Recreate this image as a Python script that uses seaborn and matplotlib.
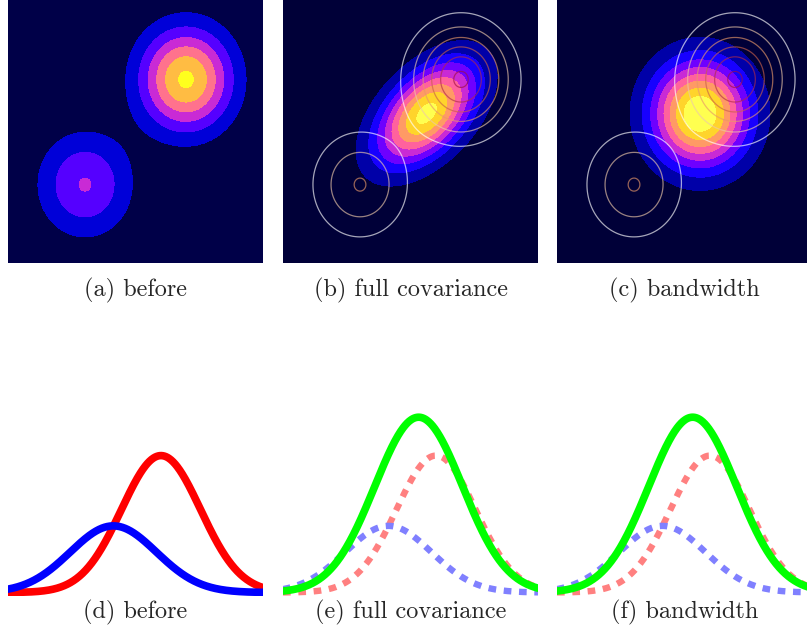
import numpy as np
import seaborn as sns
import matplotlib.pyplot as plt
from matplotlib.colors import LinearSegmentedColormap

# TOP ROW: GAUSSIAN BLOBS (peak height, centre, spread)
blob_peaks = [0.436, 0.88]
blob_cx = [0.302, 0.698]
blob_cy = [0.298, 0.698]
blob_sx = [0.1235, 0.1235]
blob_sy = [0.133, 0.133]

full_peak = 0.925
full_centre = [0.563, 0.569]
full_sigmas = [0.165, 0.094]   # along / across the diagonal
full_angle = 45

bw_peak = 0.995
bw_centre = [0.561, 0.567]
bw_sigmas = [0.131, 0.139]

# BOTTOM ROW: 1D CURVES (peak, mean, sd)
red_curve = [0.781, 0.600, 0.155]
blue_curve = [0.380, 0.413, 0.169]
green_curve = [1.0, 0.532, 0.172]

captions_top = ['(a) before', '(b) full covariance', '(c) bandwidth']
captions_bottom = ['(d) before', '(e) full covariance', '(f) bandwidth']


def gauss2d(X, Y, peak, cx, cy, sx, sy, angle=0):
    t = np.deg2rad(angle)
    u = (X - cx) * np.cos(t) + (Y - cy) * np.sin(t)
    v = -(X - cx) * np.sin(t) + (Y - cy) * np.cos(t)
    return peak * np.exp(-0.5 * ((u / sx) ** 2 + (v / sy) ** 2))


def gauss1d(x, params):
    peak, mu, sd = params
    return peak * np.exp(-0.5 * ((x - mu) / sd) ** 2)


sns.set_theme(style='white')
plt.rcParams['font.family'] = ['cmr10', 'DejaVu Serif']

W, H = 807, 639
fig = plt.figure(figsize=(W / 100, H / 100), dpi=100)

lefts = [8, 283, 557]
pw = 255

g = np.linspace(0, 1, 400)
X, Y = np.meshgrid(g, g)

Z_before = sum(gauss2d(X, Y, p, cx, cy, sx, sy)
               for p, cx, cy, sx, sy in zip(blob_peaks, blob_cx, blob_cy, blob_sx, blob_sy))
Z_full = gauss2d(X, Y, full_peak, full_centre[0], full_centre[1],
                 full_sigmas[0], full_sigmas[1], full_angle)
Z_bw = gauss2d(X, Y, bw_peak, bw_centre[0], bw_centre[1], bw_sigmas[0], bw_sigmas[1])

ring_cmap = LinearSegmentedColormap.from_list(
    'rings', ['#ffffff', '#ecc8a8', '#e89868', '#c86048', '#b02c48', '#a01040'])
before_levels = np.linspace(0, 1, 8)

fields = [(Z_before, 8), (Z_full, 10), (Z_bw, 10)]
for i, (Z, n) in enumerate(fields):
    ax = fig.add_axes([lefts[i] / W, (H - 263) / H, pw / W, 263 / H])
    ax.contourf(X, Y, Z, levels=np.linspace(0, 1, n), cmap='gnuplot2')
    if i > 0:
        ax.contour(X, Y, Z_before, levels=before_levels[1:-1], cmap=ring_cmap,
                   alpha=0.65, linewidths=0.9)
    ax.set_xlim(0, 1)
    ax.set_ylim(0, 1)
    ax.axis('off')
    ax.text(0.5, -27 / 263, captions_top[i], transform=ax.transAxes,
            ha='center', va='center', fontsize=17.5)

x = np.linspace(0, 1, 500)
bh = 195.5
for i in range(3):
    ax = fig.add_axes([lefts[i] / W, (H - 595.5) / H, pw / W, bh / H])
    if i == 0:
        sns.lineplot(x=x, y=gauss1d(x, red_curve), ax=ax, color='#ff0000', lw=5.5)
        sns.lineplot(x=x, y=gauss1d(x, blue_curve), ax=ax, color='#0000ff', lw=5.5)
    else:
        sns.lineplot(x=x, y=gauss1d(x, red_curve), ax=ax, color='#ff8080', lw=4.6,
                     linestyle=(0, (1.2, 1.2)))
        sns.lineplot(x=x, y=gauss1d(x, blue_curve), ax=ax, color='#8080ff', lw=4.6,
                     linestyle=(0, (1.2, 1.2)))
        sns.lineplot(x=x, y=gauss1d(x, green_curve), ax=ax, color='#00ff00', lw=5.5)
    ax.set_xlim(0, 1)
    ax.set_ylim(-3 / 175.3, 1 + 17.2 / 175.3)
    ax.axis('off')
    ax.text(0.5, -16.5 / bh, captions_bottom[i], transform=ax.transAxes,
            ha='center', va='center', fontsize=17.5)

fig.savefig('out.png', dpi=100)
